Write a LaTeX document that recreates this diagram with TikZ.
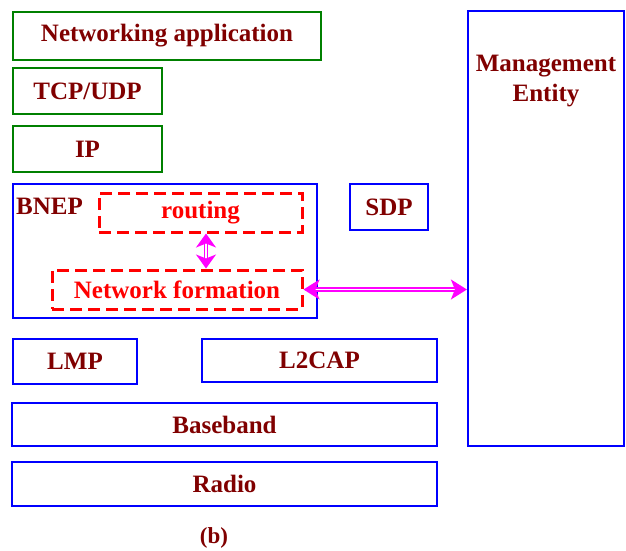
\documentclass[tikz,border=0pt]{standalone}
\usepackage{fontspec}
\setmainfont{Liberation Serif}
\usetikzlibrary{arrows.meta}
\definecolor{textred}{RGB}{128,0,0}
\definecolor{layergreen}{RGB}{0,128,0}
\definecolor{linkmag}{RGB}{255,0,255}

\begin{document}
\begin{tikzpicture}[x=1pt, y=-1pt,
    layer/.style={draw=#1, line width=2.2pt, inner sep=0pt,
                  font=\fontsize{25}{30}\selectfont\bfseries, text=textred},
    sub/.style={draw=red, line width=3pt, dash pattern=on 12pt off 6pt,
                inner sep=0pt, font=\fontsize{25}{30}\selectfont\bfseries, text=red},
    link/.style={draw=linkmag, line width=1.6pt, double=white, double distance=1.5pt,
                 {Stealth[length=#1,width=20pt,inset=4pt]}-{Stealth[length=#1,width=20pt,inset=4pt]}},
    link/.default=16pt,
]
\useasboundingbox (0,0) rectangle (626,550);

% Protokollstapel
\node[layer=layergreen, minimum width=308pt, minimum height=48pt] (app) at (167,36) {Networking application};
\node[layer=layergreen, minimum width=149pt, minimum height=46pt] (tcp) at (87.5,91) {TCP/UDP};
\node[layer=layergreen, minimum width=149pt, minimum height=46pt] (ip) at (87.5,149) {IP};

% BNEP
\node[layer=blue, minimum width=304pt, minimum height=134pt] (bnep) at (165,251) {};
\node[font=\fontsize{25}{30}\selectfont\bfseries, text=textred, anchor=north west, inner sep=0pt] (bneplbl) at (16,198) {BNEP};
\node[sub, minimum width=203pt, minimum height=39pt] (routing) at (200.5,212.5) {routing};
\node[sub, minimum width=250pt, minimum height=39pt] (netform) at (177,289.5) {Network formation};
\node[layer=blue, minimum width=78pt, minimum height=46pt] (sdp) at (389,207) {SDP};

% untere Schichten
\node[layer=blue, minimum width=124pt, minimum height=45pt] (lmp) at (75,361.5) {LMP};
\node[layer=blue, minimum width=235pt, minimum height=43pt] (l2cap) at (319.5,360.5) {L2CAP};
\node[layer=blue, minimum width=425pt, minimum height=43pt] (baseband) at (224.5,424.5) {Baseband};
\node[layer=blue, minimum width=425pt, minimum height=44pt] (radio) at (224.5,484) {Radio};

% Management
\node[layer=blue, minimum width=156pt, minimum height=435pt] (mgmt) at (546,228.5) {};
\node[font=\fontsize{25}{30}\selectfont\bfseries, text=textred, align=center, anchor=north, inner sep=0pt] (mgmtlbl) at (546,55) {Management\\Entity};

% Pfeile
\draw[link=14pt] (routing.south -| 206,0) -- (netform.north -| 206,0);
\draw[link] (netform.east) -- (mgmt.west |- netform.east);

% Beschriftung
\node[font=\fontsize{23}{27}\selectfont\bfseries, text=textred] (caption) at (214,538) {(b)};

\end{tikzpicture}
\end{document}
